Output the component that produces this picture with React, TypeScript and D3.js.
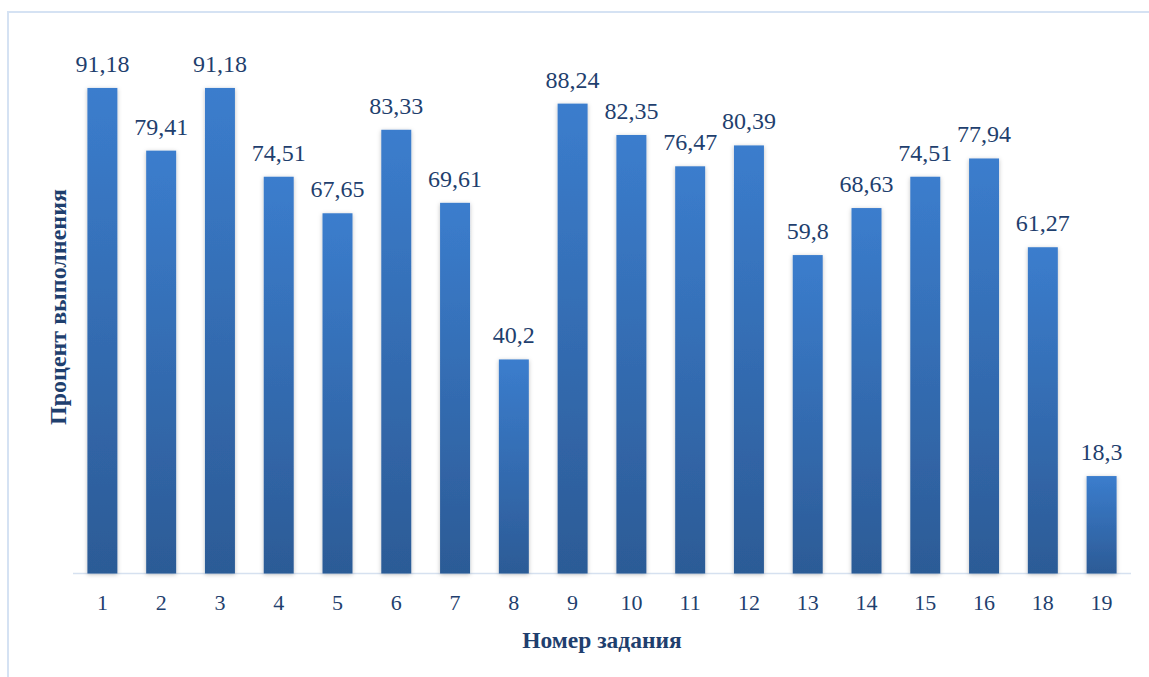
import React from "react";
import * as d3 from "d3";

const categories = ["1","2","3","4","5","6","7","8","9","10","11","12","13","14","15","16","18","19"];
const values = [91.18,79.41,91.18,74.51,67.65,83.33,69.61,40.2,88.24,82.35,76.47,80.39,59.8,68.63,74.51,77.94,61.27,18.3];
const labels = ["91,18","79,41","91,18","74,51","67,65","83,33","69,61","40,2","88,24","82,35","76,47","80,39","59,8","68,63","74,51","77,94","61,27","18,3"];
const xTitle = "Номер задания";
const yTitle = "Процент выполнения";

export default function App() {
  const W = 1149, H = 677;
  const left = 73, right = 1131, base = 573.5, top = 41;
  const x = d3.scaleBand<string>().domain(categories).range([left, right]).paddingInner(0.49).paddingOuter(0.245);
  const y = d3.scaleLinear().domain([0, 100]).range([base, top]);
  const textColor = "#1f3f6e";
  const font = "'Liberation Serif', 'Times New Roman', serif";
  return (
    <svg width={W} height={H} style={{ position: "absolute", left: 0, top: 0, background: "#fff" }}>
      <defs>
        <linearGradient id="barGrad" x1="0" y1="0" x2="0" y2="1">
          <stop offset="0" stopColor="#3b7dcd" />
          <stop offset="1" stopColor="#2c5b96" />
        </linearGradient>
        <filter id="sh" x="-30%" y="-10%" width="160%" height="120%">
          <feDropShadow dx="0" dy="1" stdDeviation="2" floodColor="#000" floodOpacity="0.25" />
        </filter>
      </defs>
      <rect x={8} y={12} width={W + 10} height={H + 10} fill="none" stroke="#d5e2f3" strokeWidth={2} />
      <line x1={left} x2={right} y1={base} y2={base} stroke="#d6e1f0" strokeWidth={1.5} />
      {categories.map((c, i) => (
        <g key={c}>
          <rect x={x(c)} y={y(values[i])} width={x.bandwidth()} height={base - y(values[i])} fill="url(#barGrad)" filter="url(#sh)" />
          <text x={(x(c) as number) + x.bandwidth() / 2} y={y(values[i]) - 16} textAnchor="middle" fontFamily={font} fontSize={24} fill={textColor}>{labels[i]}</text>
          <text x={(x(c) as number) + x.bandwidth() / 2} y={610} textAnchor="middle" fontFamily={font} fontSize={22} fill={textColor}>{c}</text>
        </g>
      ))}
      <text x={602} y={648} textAnchor="middle" fontFamily={font} fontSize={23.5} fontWeight="bold" fill={textColor}>{xTitle}</text>
      <text transform="translate(66,307) rotate(-90)" textAnchor="middle" fontFamily={font} fontSize={24} fontWeight="bold" fill={textColor}>{yTitle}</text>
    </svg>
  );
}
